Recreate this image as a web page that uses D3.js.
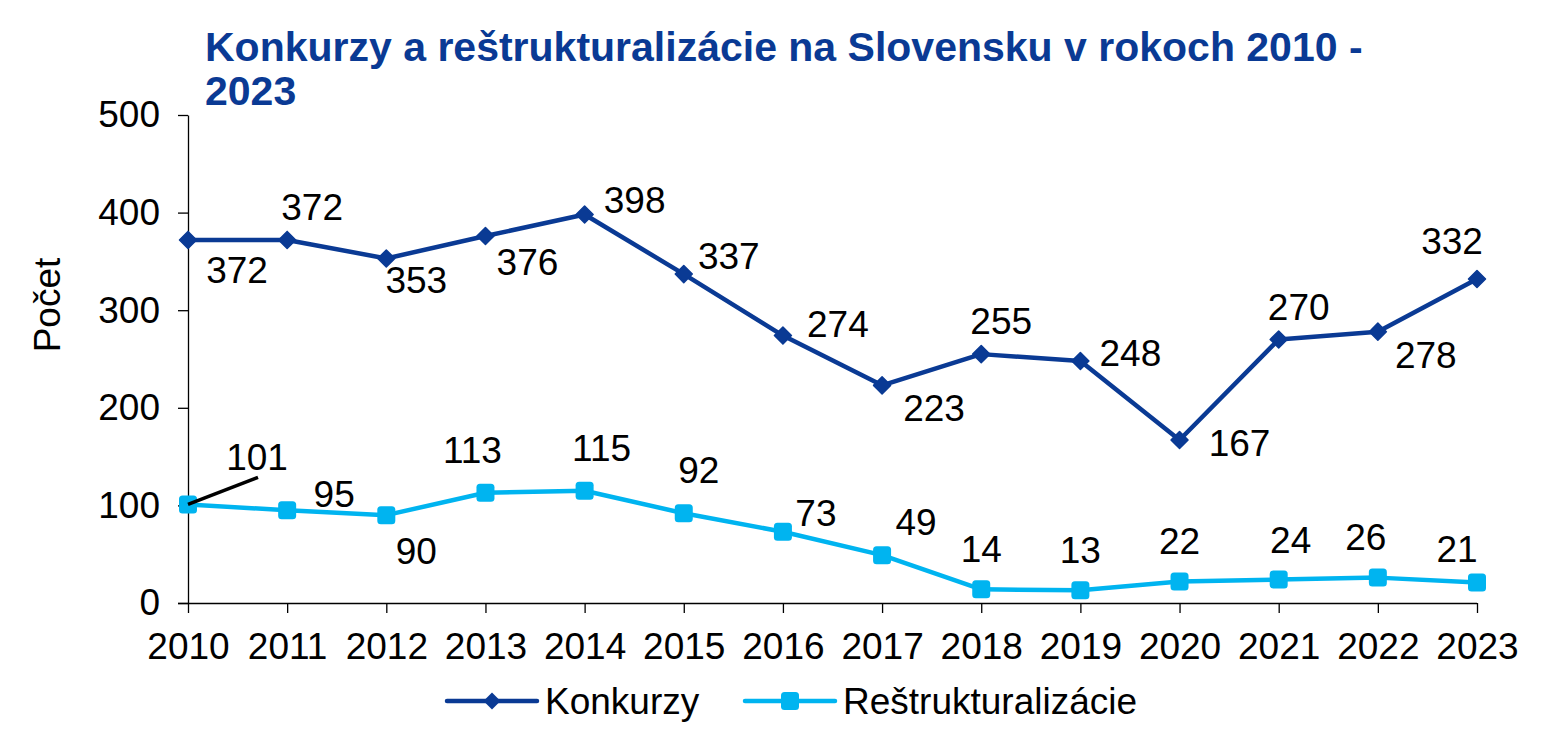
<!DOCTYPE html>
<html>
<head>
<meta charset="utf-8">
<script src="https://cdn.jsdelivr.net/npm/d3@7"></script>
<style>
  body { margin: 0; background: #fff; }
  svg { font-family: "Liberation Sans", Arial, sans-serif; }
</style>
</head>
<body>
<svg width="1545" height="751"></svg>
<script>
const years = [2010, 2011, 2012, 2013, 2014, 2015, 2016, 2017, 2018, 2019, 2020, 2021, 2022, 2023];
const konkurzy = [372, 372, 353, 376, 398, 337, 274, 223, 255, 248, 167, 270, 278, 332];
const restrukt = [101, 95, 90, 113, 115, 92, 73, 49, 14, 13, 22, 24, 26, 21];
const yTicks = [0, 100, 200, 300, 400, 500];
const seriesNames = ["Konkurzy", "Reštrukturalizácie"];

// label offsets (dx, dy of text centre from the point)
const konkOffsets = [[49, 30], [25, -33], [30, 22], [42, 26], [50, -15], [45, -18], [55, -12], [52, 23], [20, -33], [50, -8], [60, 3], [20, -32], [48, 23], [-25, -38]];
const restOffsets = [[69, -47], [47, -16], [30, 36], [-13, -43], [17, -43], [15, -43], [33, -19], [34, -33], [0, -40], [0, -40], [0, -40], [12, -40], [-12, -41], [-20, -33]];

const darkBlue = "#0a3a94";
const lightBlue = "#00b4f0";
const fs = 37;

const svg = d3.select("svg");
const x = d3.scalePoint().domain(years).range([188, 1477]).padding(0);
const y = d3.scaleLinear().domain([0, 500]).range([603, 115]);

// title
const title = svg.append("text")
  .attr("fill", darkBlue)
  .attr("font-weight", "bold")
  .attr("font-size", 41);
title.append("tspan").attr("x", 205).attr("y", 61).text("Konkurzy a reštrukturalizácie na Slovensku v rokoch 2010 -");
title.append("tspan").attr("x", 205).attr("y", 105).text("2023");

// axes
const yAxis = svg.append("g")
  .attr("transform", "translate(188,0)")
  .call(d3.axisLeft(y).tickValues(yTicks).tickSize(10).tickSizeOuter(0).tickPadding(18));
const xAxis = svg.append("g")
  .attr("transform", "translate(0,603)")
  .call(d3.axisBottom(x).tickSize(10).tickSizeOuter(0).tickPadding(20));
[yAxis, xAxis].forEach(a => {
  a.selectAll("path, line").attr("stroke", "#000").attr("stroke-width", 1.3);
  a.selectAll("text").attr("font-size", fs).attr("fill", "#000").attr("font-family", "Liberation Sans, Arial, sans-serif");
});
xAxis.select(".domain").attr("d", `M${x(years[0]) - 10},0.5H${x(years[years.length - 1])}`);

svg.append("text")
  .attr("transform", "translate(60,305) rotate(-90)")
  .attr("text-anchor", "middle")
  .attr("font-size", fs)
  .text("Počet");

const line = d3.line().x((d, i) => x(years[i])).y(d => y(d));
const diamond = d3.symbol().type(d3.symbolDiamond2).size(185);

// Konkurzy
svg.append("path").datum(konkurzy)
  .attr("d", line).attr("fill", "none")
  .attr("stroke", darkBlue).attr("stroke-width", 4.5).attr("stroke-linejoin", "round");
svg.selectAll(".kmark").data(konkurzy).enter().append("path")
  .attr("class", "kmark")
  .attr("d", diamond)
  .attr("stroke", darkBlue).attr("stroke-width", 1.5).attr("stroke-linejoin", "round")
  .attr("transform", (d, i) => `translate(${x(years[i])},${y(d)})`)
  .attr("fill", darkBlue);

// Reštrukturalizácie
svg.append("path").datum(restrukt)
  .attr("d", line).attr("fill", "none")
  .attr("stroke", lightBlue).attr("stroke-width", 4.5).attr("stroke-linejoin", "round");
svg.selectAll(".rmark").data(restrukt).enter().append("rect")
  .attr("class", "rmark")
  .attr("x", (d, i) => x(years[i]) - 9).attr("y", d => y(d) - 9)
  .attr("width", 18).attr("height", 18).attr("rx", 3.5)
  .attr("fill", lightBlue);

// leader line for 2010 label
svg.append("line")
  .attr("x1", x(years[0])).attr("y1", y(restrukt[0]))
  .attr("x2", x(years[0]) + 70).attr("y2", y(restrukt[0]) - 27)
  .attr("stroke", "#000").attr("stroke-width", 3.5);

// data labels
function labels(data, offsets) {
  svg.append("g").selectAll("text").data(data).enter().append("text")
    .attr("x", (d, i) => x(years[i]) + offsets[i][0])
    .attr("y", (d, i) => y(d) + offsets[i][1])
    .attr("dy", "0.35em")
    .attr("text-anchor", "middle")
    .attr("font-size", fs)
    .text(d => d);
}
labels(konkurzy, konkOffsets);
labels(restrukt, restOffsets);

// legend
const legend = svg.append("g").attr("transform", "translate(0,701)");
const legItems = [
  { name: seriesNames[0], color: darkBlue, x0: 447 },
  { name: seriesNames[1], color: lightBlue, x0: 745 }
];
legItems.forEach((it, k) => {
  const g = legend.append("g").attr("transform", `translate(${it.x0},0)`);
  g.append("line").attr("x1", 0).attr("x2", 90).attr("y1", 0).attr("y2", 0)
    .attr("stroke", it.color).attr("stroke-width", 4.5).attr("stroke-linecap", "round");
  if (k === 0) {
    g.append("path").attr("d", diamond).attr("transform", "translate(45,0)").attr("fill", it.color);
  } else {
    g.append("rect").attr("x", 36).attr("y", -9).attr("width", 18).attr("height", 18).attr("rx", 3.5).attr("fill", it.color);
  }
  g.append("text").attr("x", 98).attr("dy", "0.35em").attr("font-size", fs).text(it.name);
});
</script>
</body>
</html>
